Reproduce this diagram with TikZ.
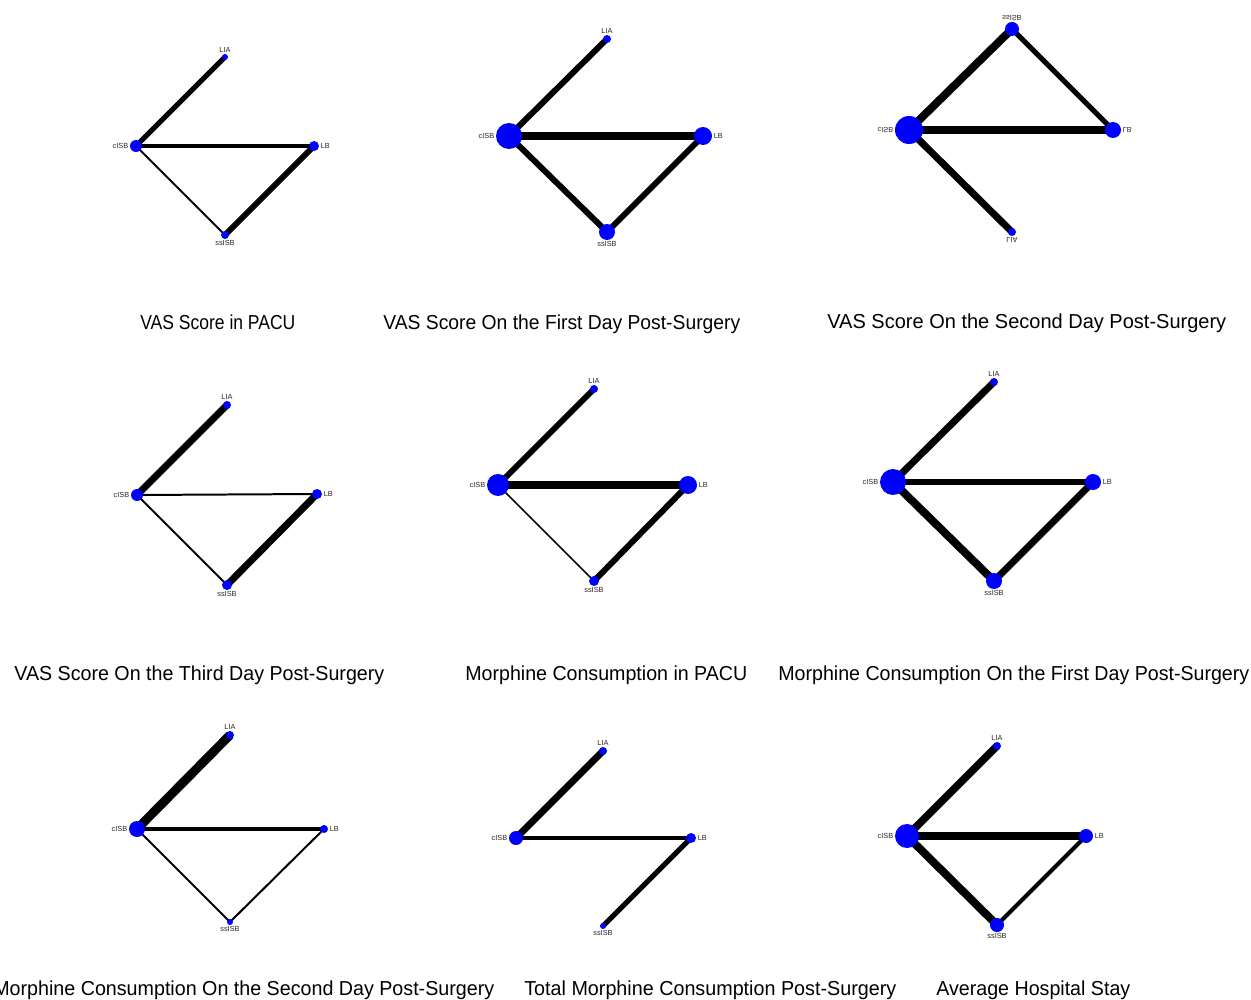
\documentclass[tikz,border=0pt]{standalone}
\usepackage{fontspec}
\setmainfont{Liberation Sans}
\usepackage{graphicx}
\pgfdeclarelayer{bg}
\pgfsetlayers{bg,main}
\newcommand{\fitw}[2]{\resizebox{#1}{\height}{#2}}
\newcommand{\flipv}[1]{\scalebox{1}[-1]{#1}}
\begin{document}
\begin{tikzpicture}[x=0.02cm,y=-0.02cm,
 vert/.style={circle,fill=blue,inner sep=0pt,minimum size=#1*0.04cm},
 ed/.style={line width=#1*0.567pt,black},
 lab/.style={font=\fontsize{4.2}{5}\selectfont,inner sep=0.6pt,text=black!85},
 ttl/.style={font=\fontsize{11.5}{13}\selectfont,anchor=base west,inner sep=0pt}]
\useasboundingbox (0,0) rectangle (1251,1000);
\clip (0,0) rectangle (1251,1000);

% ---------- Panel 1: VAS Score in PACU
\node[vert=3] (a1) at (225,57) {};
\node[vert=6] (a2) at (136,146) {};
\node[vert=5] (a3) at (314,146) {};
\node[vert=4] (a4) at (225,235) {};
\node[lab,anchor=south] (a1l) at (a1.north) {LIA};
\node[lab,anchor=east] (a2l) at (a2.west) {cISB};
\node[lab,anchor=west] (a3l) at (a3.east) {LB};
\node[lab,anchor=north] (a4l) at (a4.south) {ssISB};
\begin{pgfonlayer}{bg}
\draw[ed=5] (a2.center) -- (a1.center);
\draw[ed=5] (a2.center) -- (a3.center);
\draw[ed=2] (a2.center) -- (a4.center);
\draw[ed=6] (a4.center) -- (a3.center);
\end{pgfonlayer}

% ---------- Panel 2: VAS first day
\node[vert=4] (b1) at (607,39) {};
\node[vert=13] (b2) at (509,136) {};
\node[vert=9] (b3) at (703,136) {};
\node[vert=8] (b4) at (607,232) {};
\node[lab,anchor=south] (b1l) at (b1.north) {LIA};
\node[lab,anchor=east] (b2l) at (b2.west) {cISB};
\node[lab,anchor=west] (b3l) at (b3.east) {LB};
\node[lab,anchor=north] (b4l) at (b4.south) {ssISB};
\begin{pgfonlayer}{bg}
\draw[ed=6] (b2.center) -- (b1.center);
\draw[ed=8] (b2.center) -- (b3.center);
\draw[ed=6] (b2.center) -- (b4.center);
\draw[ed=6] (b4.center) -- (b3.center);
\end{pgfonlayer}

% ---------- Panel 3: VAS second day (vertically mirrored)
\node[vert=7] (c1) at (1012,29) {};
\node[vert=14] (c2) at (909,130) {};
\node[vert=8] (c3) at (1113,130) {};
\node[vert=4] (c4) at (1012,232) {};
\node[lab,anchor=south] (c1l) at (c1.north) {\flipv{ssISB}};
\node[lab,anchor=east] (c2l) at (c2.west) {\flipv{cISB}};
\node[lab,anchor=west] (c3l) at (c3.east) {\flipv{LB}};
\node[lab,anchor=north] (c4l) at (c4.south) {\flipv{LIA}};
\begin{pgfonlayer}{bg}
\draw[ed=8] (c2.center) -- (c1.center);
\draw[ed=5] (c1.center) -- (c3.center);
\draw[ed=8] (c2.center) -- (c3.center);
\draw[ed=7] (c2.center) -- (c4.center);
\end{pgfonlayer}

% ---------- Panel 4: VAS third day
\node[vert=4] (d1) at (227,405) {};
\node[vert=6] (d2) at (137,495) {};
\node[vert=5] (d3) at (317,494) {};
\node[vert=5] (d4) at (227,585) {};
\node[lab,anchor=south] (d1l) at (d1.north) {LIA};
\node[lab,anchor=east] (d2l) at (d2.west) {cISB};
\node[lab,anchor=west] (d3l) at (d3.east) {LB};
\node[lab,anchor=north] (d4l) at (d4.south) {ssISB};
\begin{pgfonlayer}{bg}
\draw[ed=7] (d2.center) -- (d1.center);
\draw[ed=2] (d2.center) -- (d3.center);
\draw[ed=2] (d2.center) -- (d4.center);
\draw[ed=7] (d4.center) -- (d3.center);
\end{pgfonlayer}

% ---------- Panel 5: Morphine PACU
\node[vert=4] (e1) at (594,389) {};
\node[vert=11] (e2) at (498,485) {};
\node[vert=9] (e3) at (688,485) {};
\node[vert=5] (e4) at (594,581) {};
\node[lab,anchor=south] (e1l) at (e1.north) {LIA};
\node[lab,anchor=east] (e2l) at (e2.west) {cISB};
\node[lab,anchor=west] (e3l) at (e3.east) {LB};
\node[lab,anchor=north] (e4l) at (e4.south) {ssISB};
\begin{pgfonlayer}{bg}
\draw[ed=6] (e2.center) -- (e1.center);
\draw[ed=8] (e2.center) -- (e3.center);
\draw[ed=1.5] (e2.center) -- (e4.center);
\draw[ed=6] (e4.center) -- (e3.center);
\end{pgfonlayer}

% ---------- Panel 6: Morphine first day
\node[vert=4] (f1) at (994,382) {};
\node[vert=13] (f2) at (893,482) {};
\node[vert=8] (f3) at (1093,482) {};
\node[vert=8] (f4) at (994,581) {};
\node[lab,anchor=south] (f1l) at (f1.north) {LIA};
\node[lab,anchor=east] (f2l) at (f2.west) {cISB};
\node[lab,anchor=west] (f3l) at (f3.east) {LB};
\node[lab,anchor=north] (f4l) at (f4.south) {ssISB};
\begin{pgfonlayer}{bg}
\draw[ed=7] (f2.center) -- (f1.center);
\draw[ed=6.5] (f2.center) -- (f3.center);
\draw[ed=8] (f2.center) -- (f4.center);
\draw[ed=7] (f4.center) -- (f3.center);
\end{pgfonlayer}

% ---------- Panel 7: Morphine second day
\node[vert=4] (g1) at (230,735) {};
\node[vert=8] (g2) at (137,829) {};
\node[vert=4] (g3) at (324,829) {};
\node[vert=3] (g4) at (230,922) {};
\node[lab,anchor=south] (g1l) at (g1.north) {LIA};
\node[lab,anchor=east] (g2l) at (g2.west) {cISB};
\node[lab,anchor=west] (g3l) at (g3.east) {LB};
\node[lab,anchor=north] (g4l) at (g4.south) {ssISB};
\begin{pgfonlayer}{bg}
\draw[ed=9] (g2.center) -- (g1.center);
\draw[ed=4] (g2.center) -- (g3.center);
\draw[ed=2] (g2.center) -- (g4.center);
\draw[ed=2] (g4.center) -- (g3.center);
\end{pgfonlayer}

% ---------- Panel 8: Total morphine
\node[vert=4] (h1) at (603,751) {};
\node[vert=7] (h2) at (516,838) {};
\node[vert=5] (h3) at (691,838) {};
\node[vert=3] (h4) at (603,926) {};
\node[lab,anchor=south] (h1l) at (h1.north) {LIA};
\node[lab,anchor=east] (h2l) at (h2.west) {cISB};
\node[lab,anchor=west] (h3l) at (h3.east) {LB};
\node[lab,anchor=north] (h4l) at (h4.south) {ssISB};
\begin{pgfonlayer}{bg}
\draw[ed=7] (h2.center) -- (h1.center);
\draw[ed=4] (h2.center) -- (h3.center);
\draw[ed=5] (h3.center) -- (h4.center);
\end{pgfonlayer}

% ---------- Panel 9: Hospital stay
\node[vert=4] (k1) at (997,746) {};
\node[vert=12] (k2) at (907,836) {};
\node[vert=7] (k3) at (1086,836) {};
\node[vert=7] (k4) at (997,925) {};
\node[lab,anchor=south] (k1l) at (k1.north) {LIA};
\node[lab,anchor=east] (k2l) at (k2.west) {cISB};
\node[lab,anchor=west] (k3l) at (k3.east) {LB};
\node[lab,anchor=north] (k4l) at (k4.south) {ssISB};
\begin{pgfonlayer}{bg}
\draw[ed=7.5] (k2.center) -- (k1.center);
\draw[ed=8] (k2.center) -- (k3.center);
\draw[ed=8] (k2.center) -- (k4.center);
\draw[ed=4] (k4.center) -- (k3.center);
\end{pgfonlayer}

% ---------- Titles
\node[ttl] (t1) at (140,329) {\fitw{3.10cm}{VAS Score in PACU}};
\node[ttl] (t2) at (383,329) {\fitw{7.14cm}{VAS Score On the First Day Post-Surgery}};
\node[ttl] (t3) at (827,328) {\fitw{7.98cm}{VAS Score On the Second Day Post-Surgery}};
\node[ttl] (t4) at (14,680) {\fitw{7.40cm}{VAS Score On the Third Day Post-Surgery}};
\node[ttl] (t5) at (465,680) {\fitw{5.64cm}{Morphine Consumption in PACU}};
\node[ttl] (t6) at (778,680) {\fitw{9.42cm}{Morphine Consumption On the First Day Post-Surgery}};
\node[ttl] (t7) at (-7,995) {\fitw{10.02cm}{Morphine Consumption On the Second Day Post-Surgery}};
\node[ttl] (t8) at (524,995) {\fitw{7.44cm}{Total Morphine Consumption Post-Surgery}};
\node[ttl] (t9) at (936,995) {\fitw{3.88cm}{Average Hospital Stay}};
\end{tikzpicture}
\end{document}
